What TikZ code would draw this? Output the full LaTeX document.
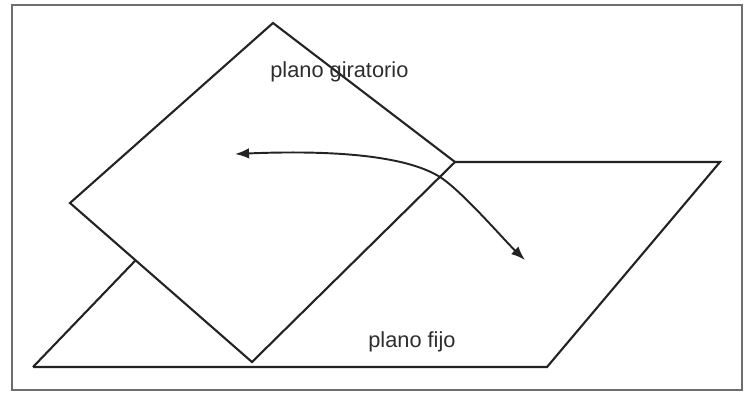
\documentclass[tikz,border=0pt]{standalone}
\usepackage{fontspec}
\setmainfont{Liberation Sans}
\usepackage{tikz}
\usetikzlibrary{arrows.meta}
\definecolor{framegray}{RGB}{110, 110, 110}
\definecolor{linedark}{RGB}{35, 35, 35}
\definecolor{textdark}{RGB}{45, 45, 45}

\begin{document}
\begin{tikzpicture}[
    x=0.02cm, y=-0.02cm,
    plane/.style={draw=linedark, line width=1.2pt, line join=miter},
    label/.style={anchor=base west, inner sep=0pt, text=textdark,
                  font=\fontsize{12.4}{14}\selectfont},
    turn/.style={draw=linedark, line width=1.1pt,
                 {Latex[length=8pt,width=6pt]}-{Latex[length=8pt,width=6pt]}}
]
    \useasboundingbox (0,0) rectangle (746,393);
    \draw[framegray, line width=1.2pt] (12,5) rectangle (742,390);

    % plano fijo
    \coordinate (fbl) at (33,367);
    \coordinate (fbr) at (547,367);
    \coordinate (ftr) at (720,162);
    \coordinate (ftl) at (230,162);
    % plano giratorio
    \coordinate (rt) at (273,23);
    \coordinate (rr) at (455,162);
    \coordinate (rb) at (252,362);
    \coordinate (rl) at (70,203);

    \draw[plane] (fbl) -- (fbr) -- (ftr) -- (rr);
    \draw[plane] (fbl) -- (intersection of fbl--ftl and rl--rb);
    \draw[plane] (rt) -- (rr) -- (rb) -- (rl) -- cycle;

    \node[label] (giro) at (270,77) {plano giratorio};
    \node[label] (fijo) at (368,347) {plano fijo};

    % flecha de giro
    \coordinate (ini) at (235,154);
    \coordinate (mid) at (440,177);
    \coordinate (fin) at (525,260);
    \draw[turn] (ini) .. controls (330,150) and (405,155) .. (mid)
                      .. controls (462,191) and (505,241) .. (fin);
\end{tikzpicture}
\end{document}
